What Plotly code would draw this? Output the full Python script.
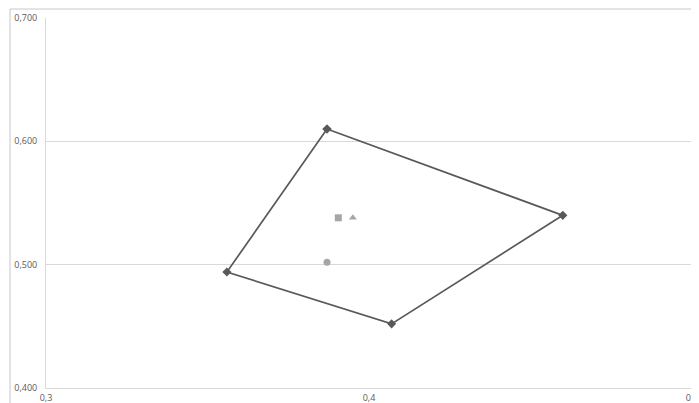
import plotly.graph_objects as go

# vowel polygon corners (closed back to the first point)
poly_x = [0.387, 0.460, 0.407, 0.356, 0.387]
poly_y = [0.610, 0.540, 0.452, 0.494, 0.610]

# single points inside the polygon
square_x, square_y = [0.3905], [0.538]
triangle_x, triangle_y = [0.395], [0.538]
circle_x, circle_y = [0.387], [0.502]

fig = go.Figure()

fig.add_trace(go.Scatter(
    x=poly_x, y=poly_y, mode="lines+markers",
    line=dict(color="#595959", width=1.7),
    marker=dict(symbol="diamond", size=7, color="#595959"),
    hoverinfo="x+y",
))
fig.add_trace(go.Scatter(
    x=square_x, y=square_y, mode="markers",
    marker=dict(symbol="square", size=7, color="#a6a6a6"),
))
fig.add_trace(go.Scatter(
    x=triangle_x, y=triangle_y, mode="markers",
    marker=dict(symbol="triangle-up", size=7, color="#a6a6a6"),
))
fig.add_trace(go.Scatter(
    x=circle_x, y=circle_y, mode="markers",
    marker=dict(symbol="circle", size=7, color="#a6a6a6"),
))

# outer chart frame
fig.add_shape(type="rect", xref="paper", yref="paper",
              x0=-0.0557, x1=1.05, y0=-0.1, y1=1.0243,
              line=dict(color="#c8c8c8", width=1), layer="below")

# the page body adds 8px on the left and top; the rest runs past the window edge
fig.update_layout(
    width=699, height=403,
    margin=dict(l=38, r=15, t=10, b=23, autoexpand=False),
    paper_bgcolor="white", plot_bgcolor="white",
    showlegend=False,
    separators=",.",
    font=dict(family="Open Sans, Liberation Sans, sans-serif", size=9, color="#595959"),
    xaxis=dict(range=[0.3, 0.5], tickvals=[0.3, 0.4, 0.5], tickformat=".1f",
               showgrid=False, zeroline=False, showline=True, automargin=False,
               linecolor="#d9d9d9", linewidth=1, ticks="", ticklabelstandoff=1),
    yaxis=dict(range=[0.4, 0.7], tickvals=[0.4, 0.5, 0.6, 0.7], tickformat=".3f",
               showgrid=True, gridcolor="#d9d9d9", gridwidth=1, zeroline=False,
               showline=True, linecolor="#d9d9d9", linewidth=1, ticks="",
               automargin=False, ticklabelstandoff=6),
)

fig.write_html("out.html")
